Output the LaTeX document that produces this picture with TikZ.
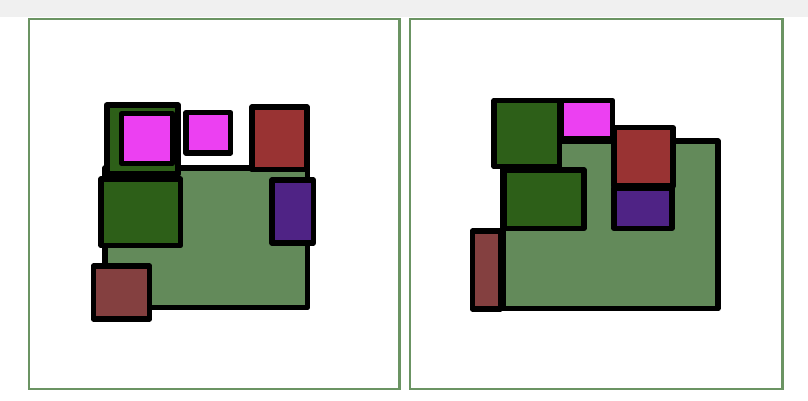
\documentclass[tikz,border=0pt]{standalone}
\begin{document}
\begin{tikzpicture}[x=1pt,y=-1pt,
  box/.style={draw=black,line width=5.3pt,line join=round},
  panel/.style={draw=panelgreen,line width=2.2pt,fill=white}]
\definecolor{panelgreen}{HTML}{6B9463}
\definecolor{lgreen}{HTML}{638A5A}
\definecolor{dgreen}{HTML}{2D5F18}
\definecolor{magenta}{HTML}{EC40F2}
\definecolor{redb}{HTML}{993333}
\definecolor{purpleb}{HTML}{4F2385}
\definecolor{brownb}{HTML}{844040}
\useasboundingbox (0,0) rectangle (808,400);
\fill[white] (0,0) rectangle (808,400);
\fill[black!6] (0,0) rectangle (808,17);
% panels
\draw[panel] (29,19) rectangle (399.5,389);
\draw[panel] (410,19) rectangle (782.5,389);
% left panel
\draw[box,fill=lgreen] (105,168) rectangle (307.5,307.7);
\draw[box,fill=dgreen,line width=6.2pt] (106.7,105.3) rectangle (178,174);
\draw[box,fill=magenta] (121.7,113.8) rectangle (172.5,163.3);
\draw[box,fill=magenta] (186,112.7) rectangle (230.7,153);
\draw[box,fill=redb] (252,107) rectangle (307,169.7);
\draw[box,fill=dgreen] (101,179) rectangle (180.7,245.7);
\draw[box,fill=purpleb] (272,180) rectangle (313.3,243);
\draw[box,fill=brownb] (93.3,266) rectangle (149.7,319);
% right panel
\draw[box,fill=lgreen] (503,141) rectangle (718,308.7);
\draw[box,fill=dgreen] (494,100.3) rectangle (559.7,166.7);
\draw[box,fill=magenta] (561,100.3) rectangle (612.5,139);
\draw[box,fill=redb] (614,127.5) rectangle (673,186);
\draw[box,fill=purpleb] (614,188) rectangle (672,228.3);
\draw[box,fill=dgreen] (504.3,170) rectangle (584,228.3);
\draw[box,fill=brownb] (472.3,231) rectangle (500.3,309);
\end{tikzpicture}
\end{document}
